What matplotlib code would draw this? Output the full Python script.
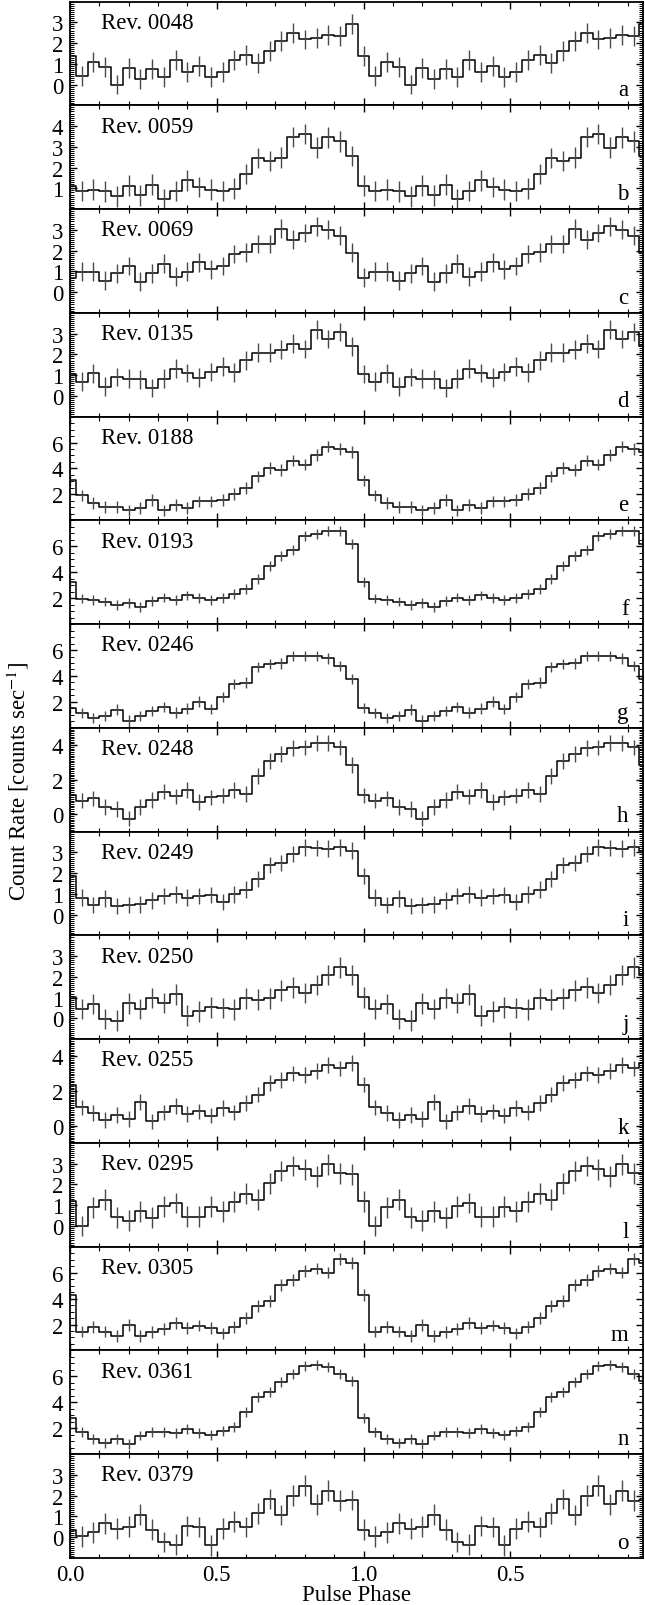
import numpy as np
import matplotlib
matplotlib.use("Agg")
import matplotlib.pyplot as plt
from matplotlib.ticker import MultipleLocator, FixedLocator, NullFormatter

plt.rcParams['font.family'] = ['Liberation Serif', 'DejaVu Serif']
plt.rcParams['mathtext.fontset'] = 'stix'

revs = ['0048', '0059', '0069', '0135', '0188', '0193', '0246', '0248',
        '0249', '0250', '0255', '0295', '0305', '0361', '0379']
letters = list('abcdefghijklmno')

# 25 phase bins per cycle (bin centres 0.00, 0.04, ..., 0.96)
nbins = 25
p_a = [1.37, 0.42, 1.09, 0.83, 0.0, 0.78, 0.26, 0.73, 0.34, 1.2, 0.59, 0.9, 0.36, 0.59, 1.17, 1.43, 1.04, 1.63, 2.1, 2.5, 2.17, 2.22, 2.37, 2.33, 2.9]
p_b = [1.12, 0.87, 0.93, 0.85, 0.61, 1.12, 0.66, 1.17, 0.48, 0.87, 1.38, 1.06, 0.93, 0.87, 0.98, 1.69, 2.46, 2.31, 2.47, 3.47, 3.61, 2.95, 3.45, 3.27, 2.55]
p_c = [0.7, 0.98, 0.98, 0.55, 0.9, 1.26, 0.5, 0.9, 1.37, 0.74, 0.98, 1.44, 1.1, 1.26, 1.84, 1.92, 2.32, 2.32, 3.05, 2.52, 2.84, 3.16, 3.0, 2.71, 1.9]
p_d = [1.05, 0.68, 1.08, 0.44, 0.9, 0.82, 0.79, 0.37, 0.82, 1.31, 1.1, 0.87, 1.15, 1.4, 1.13, 1.71, 2.08, 2.08, 2.23, 2.52, 2.26, 3.19, 2.74, 3.08, 2.39]
p_e = [3.08, 1.92, 1.35, 1.05, 1.05, 0.76, 0.97, 1.56, 0.76, 1.2, 0.97, 1.46, 1.46, 1.56, 2.05, 2.49, 3.39, 4.04, 3.86, 4.61, 4.3, 5.05, 5.69, 5.48, 5.25]
p_f = [3.26, 1.97, 1.85, 1.74, 1.48, 1.61, 1.33, 1.79, 2.05, 1.85, 2.21, 2.0, 1.85, 2.0, 2.31, 2.7, 3.47, 4.5, 5.28, 5.74, 6.77, 6.95, 7.2, 7.16, 6.18]
p_g = [1.51, 1.13, 0.77, 0.9, 1.41, 0.56, 0.92, 1.31, 1.59, 1.18, 1.49, 2.03, 1.46, 2.36, 3.38, 3.49, 4.67, 4.92, 4.97, 5.56, 5.56, 5.56, 5.36, 4.77, 3.77]
p_h = [1.1, 0.79, 0.92, 0.44, 0.31, -0.25, 0.44, 0.83, 1.31, 1.04, 1.4, 0.71, 0.98, 1.08, 1.4, 1.17, 2.21, 3.1, 3.48, 3.83, 3.87, 4.13, 4.13, 3.87, 2.85]
p_i = [1.87, 0.82, 0.47, 0.79, 0.42, 0.47, 0.5, 0.69, 0.9, 0.98, 0.82, 0.9, 0.94, 0.61, 0.98, 1.21, 1.71, 2.4, 2.48, 2.92, 3.24, 3.21, 3.18, 3.24, 3.08]
p_j = [1.01, 0.45, 0.69, -0.03, -0.11, 0.72, 0.45, 0.98, 0.74, 1.17, 0.13, 0.34, 0.53, 0.5, 0.43, 0.96, 0.9, 0.96, 1.36, 1.49, 1.22, 1.61, 2.09, 2.46, 2.09]
p_k = [2.37, 1.06, 0.73, 0.33, 0.63, 0.38, 1.38, 0.25, 0.77, 1.15, 0.67, 0.83, 0.58, 1.02, 0.77, 1.31, 1.79, 2.46, 2.63, 3.02, 2.94, 3.17, 3.52, 3.31, 3.62]
p_l = [1.19, 0.0, 0.9, 1.27, 0.42, 0.26, 0.71, 0.39, 0.95, 1.11, 0.44, 0.44, 0.92, 0.71, 1.16, 1.56, 1.27, 2.05, 2.65, 2.89, 2.73, 2.4, 2.97, 2.53, 2.48]
p_m = [4.26, 1.46, 1.82, 1.46, 1.13, 1.97, 1.13, 1.44, 1.64, 2.1, 1.72, 1.92, 1.72, 1.31, 1.82, 2.49, 3.44, 3.82, 5.05, 5.41, 6.13, 6.31, 6.0, 7.03, 6.72]
p_n = [2.79, 1.74, 1.18, 0.85, 1.18, 0.79, 1.44, 1.74, 1.74, 1.62, 1.95, 1.62, 1.51, 1.82, 2.08, 3.23, 4.38, 4.82, 5.54, 6.18, 6.77, 6.87, 6.74, 6.18, 5.62]
p_o = [0.37, 0.05, 0.24, 0.67, 0.41, 0.5, 1.09, 0.37, -0.23, -0.36, 0.54, 0.49, -0.39, 0.41, 0.75, 0.49, 1.15, 1.84, 1.07, 2.0, 2.49, 1.59, 2.24, 1.76, 1.8]

profiles = [p_a, p_b, p_c, p_d, p_e, p_f, p_g, p_h, p_i, p_j, p_k, p_l, p_m, p_n, p_o]
errors = [0.48, 0.5, 0.45, 0.45, 0.45, 0.38, 0.4, 0.45, 0.4, 0.5, 0.45, 0.5, 0.45, 0.38, 0.5]
ylims = [(-1, 4), (0, 5), (-1, 4), (-1, 4), (0, 8), (0, 8), (0, 8), (-1, 5),
         (-1, 4), (-1, 4), (-1, 5), (-1, 4), (0, 8), (0, 8), (-1, 4)]
ysteps = [1, 1, 1, 1, 2, 2, 2, 2, 1, 1, 2, 1, 2, 2, 1]
xticks = [0.0, 0.5, 1.0, 1.5]
xticklabels = ['0.0', '0.5', '1.0', '0.5']

W, H = 645, 1606
fig = plt.figure(figsize=(W / 100, H / 100), dpi=100)
left, right = 70 / W, 643 / W
top, bottom = 1 - 2.5 / H, 1 - 1559 / H
npan = len(revs)
ph = (top - bottom) / npan

FS = 16.5
for idx in range(npan):
    ax = fig.add_axes([left, top - (idx + 1) * ph, right - left, ph])
    vals = np.array(profiles[idx])
    # two cycles, extended one bin on each side for the step edges
    kk = np.arange(-1, 2 * nbins + 1)
    x = kk / nbins
    y = vals[kk % nbins]
    ax.step(x, y, where='mid', color='black', lw=1.1)
    ax.errorbar(x, y, yerr=errors[idx], fmt='none', ecolor='#4a4a4a',
                elinewidth=1.0, capsize=0)
    ax.set_xlim(0, 1.952)
    lo, hi = ylims[idx]
    ax.set_ylim(lo, hi)
    st = ysteps[idx]
    yt = [t for t in np.arange(np.ceil(lo / st) * st, hi + 1e-9, st) if lo + 1e-9 < t < hi - 1e-9]
    ax.yaxis.set_major_locator(FixedLocator(yt))
    ax.set_yticklabels([f'{int(t)}' for t in yt])
    if hi - lo <= 6:
        ax.yaxis.set_minor_locator(MultipleLocator(0.1))
    else:
        ax.yaxis.set_minor_locator(MultipleLocator(0.5))
    ax.xaxis.set_major_locator(FixedLocator(xticks))
    ax.xaxis.set_minor_locator(MultipleLocator(0.1))
    if idx == npan - 1:
        ax.set_xticklabels(xticklabels)
    else:
        ax.xaxis.set_major_formatter(NullFormatter())
    ax.tick_params(which='both', direction='in', top=True, right=True,
                   labelsize=FS)
    ax.tick_params(axis='x', which='major', length=5, width=1.0, pad=4)
    ax.tick_params(axis='x', which='minor', length=3, width=0.8)
    ax.tick_params(axis='y', which='major', length=5, width=1.0, pad=5)
    ax.tick_params(axis='y', which='minor', length=3, width=0.7)
    for sp in ax.spines.values():
        sp.set_linewidth(1.3)
    ax.text(0.054, 0.80, f'Rev. {revs[idx]}', transform=ax.transAxes,
            ha='left', va='center', fontsize=FS)
    ax.text(0.975, 0.05, letters[idx], transform=ax.transAxes,
            ha='right', va='bottom', fontsize=FS)

fig.text(0.5 * (left + right), 1 - 1596 / H, 'Pulse Phase', ha='center',
         va='center', fontsize=FS)
fig.text(18 / W, 0.5 * (top + bottom), r'Count Rate [counts sec$^{-1}$]',
         rotation=90, ha='center', va='center', fontsize=FS)

fig.savefig('out.png', dpi=100)
